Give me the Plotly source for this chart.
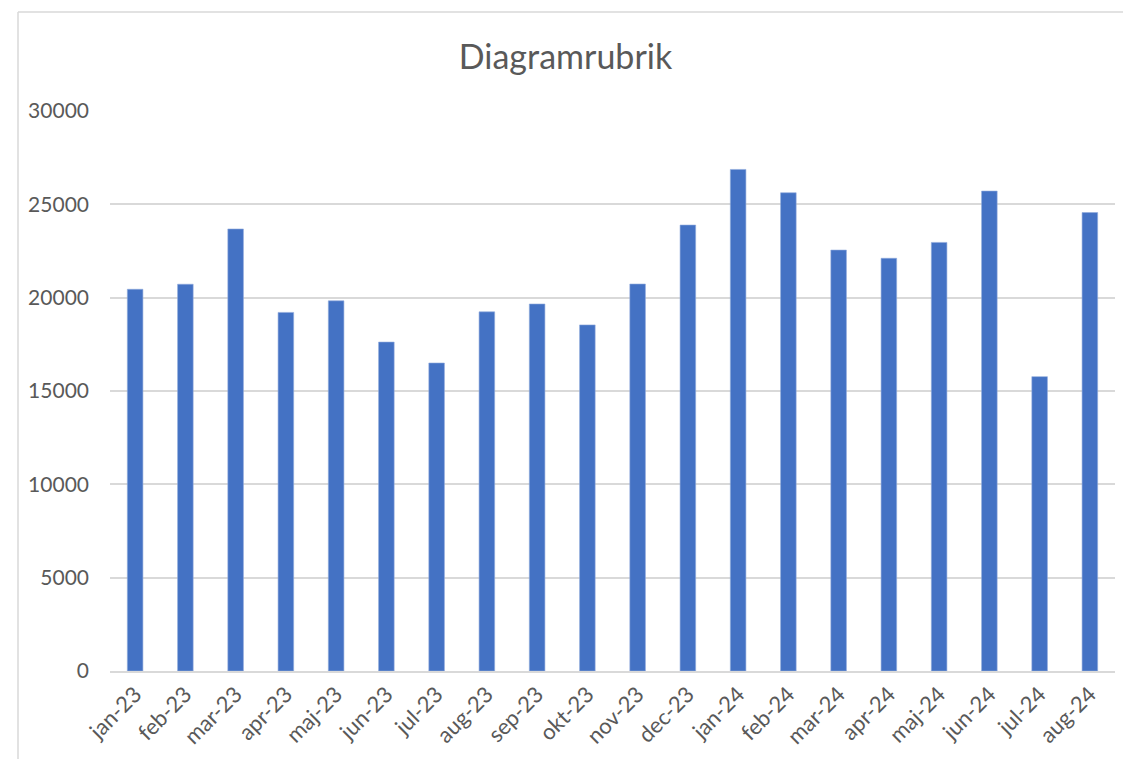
import plotly.graph_objects as go

months = ["jan-23", "feb-23", "mar-23", "apr-23", "maj-23", "jun-23", "jul-23",
          "aug-23", "sep-23", "okt-23", "nov-23", "dec-23", "jan-24", "feb-24",
          "mar-24", "apr-24", "maj-24", "jun-24", "jul-24", "aug-24"]
values = [20450, 20720, 23680, 19210, 19830, 17620, 16500,
          19240, 19660, 18540, 20730, 23890, 26870, 25620,
          22550, 22110, 22960, 25710, 15770, 24560]

y_ticks = [0, 5000, 10000, 15000, 20000, 25000, 30000]

text_color = "#595959"
grid_color = "#D9D9D9"

# page body has an 8px margin, so the figure is sized/offset to fit the window
W, H = 1115, 751

fig = go.Figure()

fig.add_trace(go.Bar(
    x=months,
    y=values,
    marker=dict(color="#4472C4", line=dict(color="#8FAADC", width=0.6)),
    showlegend=False,
))

fig.update_layout(
    width=W,
    height=H,
    margin=dict(l=102, r=8, t=103, b=88),
    paper_bgcolor="white",
    plot_bgcolor="white",
    bargap=0.69,
    font=dict(family="Lato", color=text_color),
    title=dict(
        text="Diagramrubrik",
        x=0.5,
        xanchor="center",
        y=1 - 49 / H,
        yanchor="middle",
        font=dict(size=34, color=text_color, family="Lato"),
    ),
)

fig.update_xaxes(
    tickangle=-45,
    tickfont=dict(size=22, color=text_color),
    showgrid=False,
    showline=True,
    linecolor=grid_color,
    linewidth=1.5,
    ticks="",
)

fig.update_yaxes(
    range=[0, 30000],
    tickvals=y_ticks,
    ticktext=[str(v) for v in y_ticks],
    tickfont=dict(size=21, color=text_color),
    showgrid=True,
    gridcolor=grid_color,
    gridwidth=1.5,
    zeroline=False,
    ticks="",
    ticklabelstandoff=20,
)

# outer chart frame: only the left and top edges are visible
frame_x = -92 / 1005
frame_y = 1 + 99 / 560
fig.add_shape(type="line", xref="paper", yref="paper",
              x0=frame_x, x1=frame_x, y0=-0.3, y1=frame_y,
              line=dict(color="#D9D9D9", width=1.5), layer="below")
fig.add_shape(type="line", xref="paper", yref="paper",
              x0=frame_x, x1=1.2, y0=frame_y, y1=frame_y,
              line=dict(color="#D9D9D9", width=1.5), layer="below")

fig.write_html("out.html")
